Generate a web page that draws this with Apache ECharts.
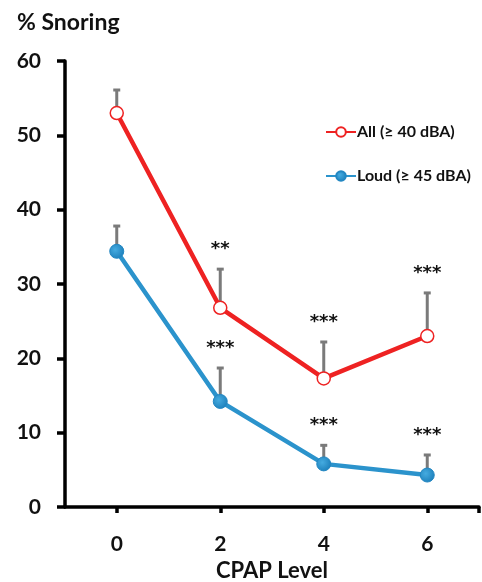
<!DOCTYPE html>
<html><head><meta charset="utf-8">
<script src="https://cdn.jsdelivr.net/npm/echarts@6/dist/echarts.min.js"></script>
<style>html,body{margin:0;padding:0;background:#fff}#c{width:482px;height:582px}</style>
</head><body><div id="c"></div>
<script>
const cpapLevels = [0, 2, 4, 6];
const allValues = [53.0, 26.8, 17.3, 23.0];
const allErrTop = [56.3, 32.2, 22.4, 29.0];
const allSig = ['', '**', '***', '***'];
const loudValues = [34.4, 14.2, 5.8, 4.3];
const loudErrTop = [38.0, 18.9, 8.5, 7.2];
const loudSig = ['', '***', '***', '***'];
const yTicks = [0, 10, 20, 30, 40, 50, 60];

const FONT = 'Lato, "Open Sans", sans-serif';
const errData = [];
cpapLevels.forEach((x, i) => {
  errData.push([x, allValues[i], allErrTop[i], allSig[i]]);
  errData.push([x, loudValues[i], loudErrTop[i], loudSig[i]]);
});

const chart = echarts.init(document.getElementById('c'));
chart.setOption({
  animation: false,
  backgroundColor: '#fff',
  title: {
    text: '% Snoring', left: 12, top: 6,
    textStyle: {fontFamily: FONT, fontWeight: 'bold', fontSize: 23, color: '#111'}
  },
  grid: {left: 65, right: 3, top: 61, bottom: 75, containLabel: false, outerBoundsMode: 'none'},
  legend: {
    orient: 'vertical', left: 320, top: 119, itemGap: 28, itemWidth: 30, itemHeight: 12,
    data: ['All (≥ 40 dBA)', 'Loud (≥ 45 dBA)'],
    textStyle: {fontFamily: FONT, fontWeight: 'bold', fontSize: 16, color: '#111', padding: [0, 0, 0, -4]}
  },
  xAxis: {
    type: 'value', min: -1, max: 7,
    name: 'CPAP Level', nameLocation: 'middle', nameGap: 53,
    nameTextStyle: {fontFamily: FONT, fontWeight: 'bold', fontSize: 22, color: '#111'},
    axisLine: {show: true, onZero: false, lineStyle: {color: '#000', width: 3.5}},
    axisTick: {show: true, length: 6, customValues: cpapLevels.concat([7]), lineStyle: {color: '#000', width: 3.5}},
    axisLabel: {customValues: cpapLevels, margin: 27, fontFamily: FONT, fontWeight: 'bold', fontSize: 21, color: '#111'},
    splitLine: {show: false}
  },
  yAxis: {
    type: 'value', min: 0, max: 60, interval: 10,
    axisLine: {show: true, onZero: false, lineStyle: {color: '#000', width: 3.5}},
    axisTick: {show: true, inside: false, length: 8, lineStyle: {color: '#000', width: 3.5}},
    axisLabel: {margin: 24, fontFamily: FONT, fontWeight: 'bold', fontSize: 21, color: '#111'},
    splitLine: {show: false}
  },
  series: [
    {
      type: 'custom', name: 'err', z: 1, silent: true,
      data: errData,
      renderItem: function (params, api) {
        const x = api.value(0);
        const p0 = api.coord([x, api.value(1)]);
        const p1 = api.coord([x, api.value(2)]);
        const sig = errData[params.dataIndex][3];
        const children = [
          {type: 'line', shape: {x1: p0[0], y1: p0[1], x2: p1[0], y2: p1[1] + 1}, style: {stroke: '#7a7a7a', lineWidth: 3}},
          {type: 'line', shape: {x1: p1[0] - 3.5, y1: p1[1] + 1.5, x2: p1[0] + 3.5, y2: p1[1] + 1.5}, style: {stroke: '#7a7a7a', lineWidth: 3}}
        ];
        if (sig) {
          children.push({type: 'text', style: {text: sig, x: p1[0], y: p1[1] - 18, align: 'center', verticalAlign: 'middle',
            font: 'bold 18px "DejaVu Sans", sans-serif', fill: '#111'}});
        }
        return {type: 'group', children: children};
      }
    },
    {
      type: 'line', name: 'All (≥ 40 dBA)', z: 3,
      data: cpapLevels.map((x, i) => [x, allValues[i]]),
      symbol: 'circle', symbolSize: 13,
      lineStyle: {color: '#ee2222', width: 4.5},
      itemStyle: {color: '#fff', borderColor: '#ee2222', borderWidth: 1.5}
    },
    {
      type: 'line', name: 'Loud (≥ 45 dBA)', z: 2,
      data: cpapLevels.map((x, i) => [x, loudValues[i]]),
      symbol: 'circle', symbolSize: 14,
      lineStyle: {color: '#2b93cc', width: 4.5},
      itemStyle: {
        color: {type: 'radial', x: 0.4, y: 0.4, r: 0.6, colorStops: [{offset: 0, color: '#45abe0'}, {offset: 1, color: '#1f82bd'}]},
        borderColor: '#2387c2', borderWidth: 1
      }
    }
  ]
});
</script></body></html>
